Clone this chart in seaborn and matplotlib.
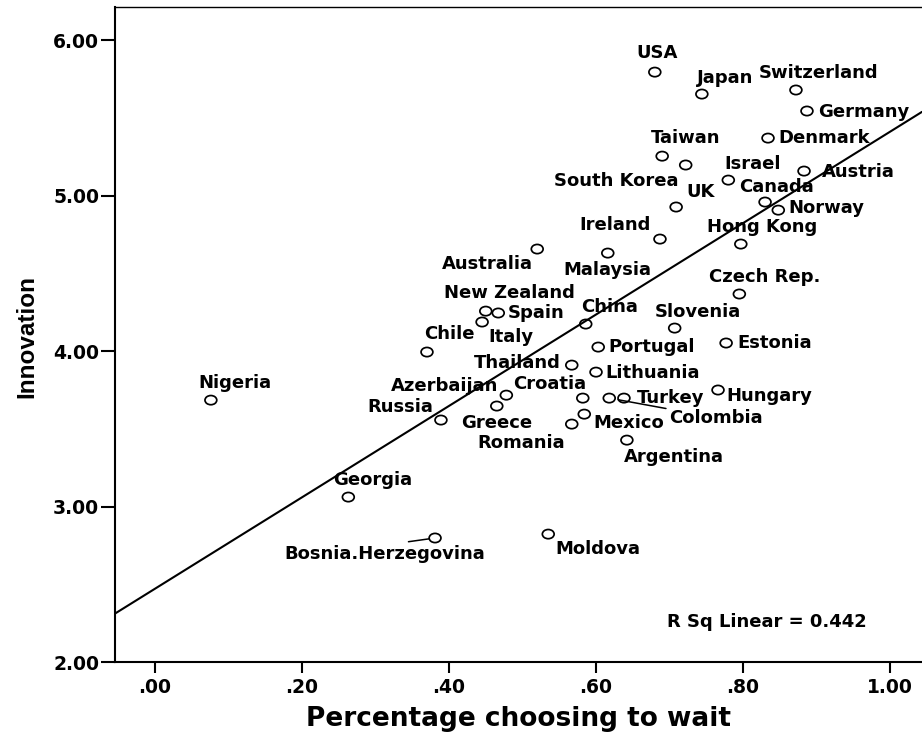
import matplotlib
matplotlib.use("Agg")
import matplotlib.pyplot as plt
import numpy as np
import pandas as pd
import seaborn as sns
from matplotlib.path import Path
from matplotlib.transforms import Affine2D
from matplotlib.ticker import FixedLocator, FuncFormatter

# Country-level survey results
countries = [
    "USA", "Japan", "Switzerland", "Germany", "Denmark", "Taiwan", "South Korea",
    "Israel", "Austria", "UK", "Canada", "Norway", "Ireland", "Hong Kong",
    "Australia", "Malaysia", "Czech Rep.", "New Zealand", "Spain", "Italy",
    "China", "Slovenia", "Chile", "Estonia", "Portugal", "Thailand", "Lithuania",
    "Azerbaijan", "Greece", "Croatia", "Colombia", "Turkey", "Hungary", "Russia",
    "Mexico", "Romania", "Argentina", "Nigeria", "Georgia", "Bosnia.Herzegovina",
    "Moldova",
]
wait_share = [
    0.680, 0.744, 0.872, 0.887, 0.834, 0.690, 0.722,
    0.780, 0.883, 0.709, 0.830, 0.848, 0.687, 0.797,
    0.520, 0.616, 0.795, 0.450, 0.467, 0.445,
    0.586, 0.707, 0.370, 0.777, 0.603, 0.567, 0.600,
    0.478, 0.465, 0.582, 0.618, 0.638, 0.766, 0.389,
    0.584, 0.567, 0.642, 0.076, 0.263, 0.381,
    0.535,
]
innovation = [
    5.794, 5.653, 5.679, 5.544, 5.370, 5.254, 5.197,
    5.100, 5.158, 4.927, 4.959, 4.907, 4.721, 4.689,
    4.657, 4.631, 4.368, 4.258, 4.246, 4.188,
    4.175, 4.149, 3.995, 4.053, 4.027, 3.911, 3.866,
    3.718, 3.648, 3.699, 3.699, 3.699, 3.751, 3.558,
    3.596, 3.532, 3.429, 3.686, 3.063, 2.800,
    2.825,
]
x_ticks = [0.0, 0.2, 0.4, 0.6, 0.8, 1.0]
y_ticks = [2.0, 3.0, 4.0, 5.0, 6.0]
r_sq_text = "R Sq Linear = 0.442"

# Label placement around each marker: (right px, down px, horizontal alignment)
label_layout = {
    "USA": (2, -19, "center"), "Japan": (23, -16, "center"),
    "Switzerland": (23, -17, "center"), "Germany": (11, 1, "left"),
    "Denmark": (10, 0, "left"), "Taiwan": (23, -18, "center"),
    "South Korea": (-69, 16, "center"), "Israel": (24, -16, "center"),
    "Austria": (18, 1, "left"), "UK": (24, -15, "center"),
    "Canada": (11, -15, "center"), "Norway": (10, -2, "left"),
    "Ireland": (-45, -14, "center"), "Hong Kong": (21, -17, "center"),
    "Australia": (-50, 15, "center"), "Malaysia": (0, 17, "center"),
    "Czech Rep.": (25, -17, "center"), "New Zealand": (24, -18, "center"),
    "Spain": (9, 0, "left"), "Italy": (29, 15, "center"),
    "China": (24, -17, "center"), "Slovenia": (23, -16, "center"),
    "Chile": (22, -18, "center"), "Estonia": (11, 0, "left"),
    "Portugal": (10, 0, "left"), "Thailand": (-11, -2, "right"),
    "Lithuania": (9, 1, "left"), "Azerbaijan": (-8, -9, "right"),
    "Greece": (0, 17, "center"), "Croatia": (-33, -14, "center"),
    "Colombia": (60, 20, "left"), "Turkey": (13, 0, "left"),
    "Hungary": (8, 6, "left"), "Russia": (-8, -13, "right"),
    "Mexico": (9, 9, "left"), "Romania": (-51, 19, "center"),
    "Argentina": (47, 17, "center"), "Nigeria": (24, -17, "center"),
    "Georgia": (24, -17, "center"), "Bosnia.Herzegovina": (-50, 16, "center"),
    "Moldova": (50, 15, "center"),
}
# Labels tied to their marker by a short connector: (relpos on text box, gap at marker in pt)
connectors = {"Colombia": ((0.0, 1.0), 6.5), "Bosnia.Herzegovina": ((0.5, 1.0), 4.3)}

sns.set_theme(style="white")
plt.rcParams["font.family"] = ["DejaVu Sans"]
plt.rcParams["font.weight"] = "bold"
plt.rcParams["axes.labelweight"] = "bold"

df = pd.DataFrame({"country": countries, "wait": wait_share, "innovation": innovation})

fig = plt.figure(figsize=(9.22, 7.33), dpi=100)
ax = fig.add_axes([0.1242, 0.0962, 0.8758, 0.8943])
xlim = (-0.0551, 1.0435)
ylim = (2.0, 6.2127)
ax.set_xlim(*xlim)
ax.set_ylim(*ylim)

# Linear fit across the full axis range
sns.regplot(data=df, x="wait", y="innovation", scatter=False, ci=None,
            truncate=False, color="black", line_kws={"lw": 1.5}, ax=ax)

# Hollow, slightly flattened circle markers
ellipse = Path.unit_circle().transformed(Affine2D().scale(1.0, 0.78))
sns.scatterplot(data=df, x="wait", y="innovation", marker=ellipse, s=72,
                color="black", facecolor="none", edgecolor="black",
                linewidth=1.25, ax=ax, zorder=3, legend=False)

ax.set_xlim(*xlim)
ax.set_ylim(*ylim)

px2pt = 72.0 / fig.dpi
for name, xv, yv in zip(countries, wait_share, innovation):
    dx, dy, ha = label_layout[name]
    extra = {}
    if name in connectors:
        relpos, gap = connectors[name]
        extra["arrowprops"] = dict(arrowstyle="-", color="black", lw=1.1,
                                   shrinkA=0, shrinkB=gap, relpos=relpos)
    ax.annotate(name, (xv, yv), xytext=(dx * px2pt, -dy * px2pt),
                textcoords="offset points", ha=ha, va="center",
                fontsize=13, fontweight="bold", color="black", **extra)

ax.text(0.808, 0.0618, r_sq_text, transform=ax.transAxes, ha="center",
        va="center", fontsize=13, fontweight="bold", color="black")

# Axes, ticks and labels
ax.xaxis.set_major_locator(FixedLocator(x_ticks))
ax.yaxis.set_major_locator(FixedLocator(y_ticks))
ax.xaxis.set_major_formatter(FuncFormatter(
    lambda v, _: f"{v:.2f}"[1:] if f"{v:.2f}".startswith("0") else f"{v:.2f}"))
ax.yaxis.set_major_formatter(FuncFormatter(lambda v, _: f"{v:.2f}"))
ax.tick_params(axis="y", left=True, length=10, width=1.5, pad=1,
               labelsize=13.5, color="black", labelcolor="black")
ax.tick_params(axis="x", bottom=True, length=8, width=1.5, pad=3,
               labelsize=13.5, color="black", labelcolor="black")
for lbl in ax.get_xticklabels() + ax.get_yticklabels():
    lbl.set_fontweight("bold")

ax.spines["right"].set_visible(False)
for side in ("left", "bottom"):
    ax.spines[side].set_color("black")
    ax.spines[side].set_linewidth(1.5)
ax.spines["top"].set_color("black")
ax.spines["top"].set_linewidth(1.0)

ax.set_xlabel("Percentage choosing to wait", fontsize=19, fontweight="bold",
              color="black")
ax.xaxis.set_label_coords(0.5, -0.0665)
ax.set_ylabel("Innovation", fontsize=17.5, fontweight="bold",
              family=["Liberation Sans", "DejaVu Sans"], color="black")
ax.yaxis.set_label_coords(-0.0947, 0.4966)

fig.savefig("out.png", dpi=100, facecolor="white")
